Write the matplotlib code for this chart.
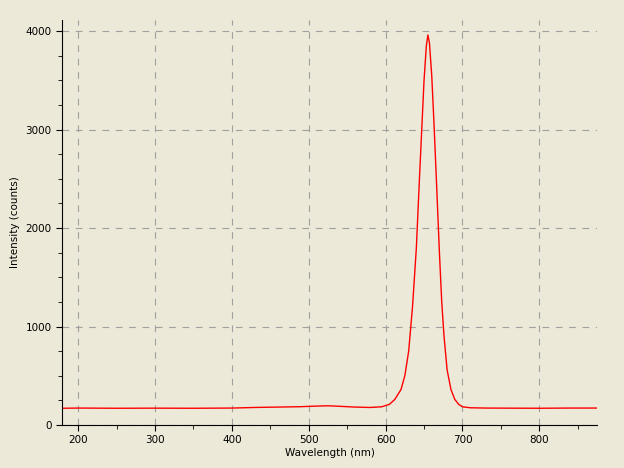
import matplotlib
matplotlib.use("Agg")
import matplotlib.pyplot as plt
from matplotlib.ticker import MultipleLocator

wavelength = [180, 200, 250, 300, 350, 400, 430, 460, 490, 510, 525, 540, 560, 580, 595, 605, 612,
              620, 625, 630, 635, 640, 644, 647, 650, 653, 655, 657, 660, 663, 666, 670, 673, 676,
              680, 685, 690, 695, 700, 710, 730, 760, 800, 840, 875]
intensity = [170, 172, 170, 171, 170, 172, 178, 182, 186, 192, 195, 190, 182, 178, 185, 210, 260,
             360, 500, 750, 1200, 1800, 2500, 3000, 3500, 3850, 3960, 3880, 3550, 3050, 2500, 1750, 1250, 900,
             560, 360, 260, 210, 185, 175, 172, 171, 170, 172, 172]

bg = "#ECE9D8"
fig = plt.figure(figsize=(6.24, 4.68), dpi=100, facecolor=bg)
ax = fig.add_axes([62/624, 43/468, 535/624, 405/468])
ax.set_facecolor(bg)
ax.plot(wavelength, intensity, color="red", lw=1)
ax.set_xlim(179, 875)
ax.set_ylim(0, 4112)
ax.xaxis.set_major_locator(MultipleLocator(100))
ax.xaxis.set_minor_locator(MultipleLocator(50))
ax.yaxis.set_major_locator(MultipleLocator(1000))
ax.yaxis.set_minor_locator(MultipleLocator(250))
ax.grid(True, which="major", color="#a0a0a0", ls=(0, (6, 6)), lw=0.8)
for s in ["top", "right"]:
    ax.spines[s].set_visible(False)
ax.tick_params(labelsize=7.5, length=4, direction="out")
ax.tick_params(which="minor", length=3)
ax.set_xlabel("Wavelength (nm)", fontsize=7.5, labelpad=2)
ax.set_ylabel("Intensity (counts)", fontsize=7.5)
fig.savefig("out.png", dpi=100, facecolor=bg)
